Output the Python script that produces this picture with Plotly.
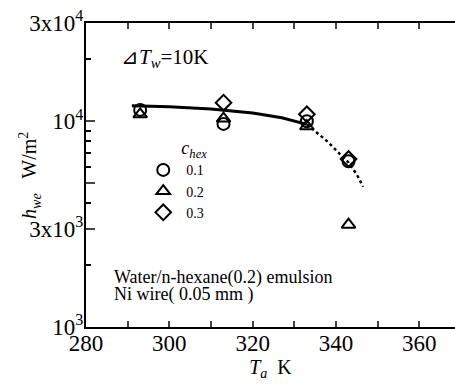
import plotly.graph_objects as go

# ---- data ----
conc_labels = ["0.1", "0.2", "0.3"]
Ta_c1 = [293, 313, 333, 343]
h_c1 = [11350, 9700, 10000, 6380]
Ta_c2 = [293, 313, 333, 343]
h_c2 = [10800, 10300, 9450, 3140]
Ta_c3 = [313, 333, 343]
h_c3 = [12300, 10800, 6550]

fit_solid_x = [291, 300, 310, 320, 327, 333]
fit_solid_y = [11900, 11750, 11450, 10950, 10400, 9650]
fit_dot_x = [333, 335, 338, 341, 343, 345, 346.5]
fit_dot_y = [9650, 8950, 7950, 6900, 6300, 5500, 4800]

x_tickvals = [280, 290, 300, 310, 320, 330, 340, 350, 360]
x_ticktext = ["280", "", "300", "", "320", "", "340", "", "360"]
y_tickvals = [1e3, 3e3, 5e3, 1e4, 3e4]
y_ticktext = ["10<sup>3</sup>", "3x10<sup>3</sup>", "", "10<sup>4</sup>", "3x10<sup>4</sup>"]
y_minor = [2e3, 4e3, 6e3, 7e3, 8e3, 9e3, 2e4]

FONT = "Liberation Serif"
Y_RANGE = [3, 4.47713]
fig = go.Figure()

fig.add_trace(go.Scatter(x=fit_solid_x, y=fit_solid_y, mode="lines",
                         line=dict(color="black", width=3), showlegend=False))
fig.add_trace(go.Scatter(x=fit_dot_x, y=fit_dot_y, mode="lines",
                         line=dict(color="black", width=2.5, dash="dot"), showlegend=False))

for xs, ys, sym, name in [(Ta_c1, h_c1, "circle-open", conc_labels[0]),
                          (Ta_c2, h_c2, "triangle-up-open", conc_labels[1]),
                          (Ta_c3, h_c3, "diamond-open", conc_labels[2])]:
    fig.add_trace(go.Scatter(x=xs, y=ys, mode="markers", name=name,
                             marker=dict(symbol=sym, size=12, color="black",
                                         line=dict(width=2, color="black"))))

fig.update_layout(
    width=455, height=385,
    margin=dict(l=86, r=0, t=23, b=58),
    plot_bgcolor="white", paper_bgcolor="white",
    font=dict(family=FONT, color="black", size=20),
    legend=dict(x=0.147, y=0.645, xanchor="left", yanchor="top",
                bgcolor="rgba(0,0,0,0)", font=dict(size=14, family=FONT),
                title=dict(text="<i>c</i><sub><i>hex</i></sub>", side="top right",
                           font=dict(size=18, family=FONT)),
                itemwidth=36, tracegroupgap=0),
    xaxis=dict(range=[280, 368.55], tickvals=x_tickvals, ticktext=x_ticktext,
               ticks="inside", ticklen=6, tickwidth=1.5, showline=True, linewidth=2,
               linecolor="black", mirror="ticks", showgrid=False, zeroline=False,
               automargin=False, ticklabelstandoff=-6,
               tickfont=dict(size=23, family=FONT),
               title=dict(text="<i>T</i><sub><i>a</i></sub>  K", standoff=4,
                          font=dict(size=20, family=FONT))),
    yaxis=dict(type="log", range=Y_RANGE, tickvals=y_tickvals, ticktext=y_ticktext,
               ticks="inside", ticklen=9, tickwidth=1.5, showline=True, linewidth=2,
               linecolor="black", showgrid=False, zeroline=False, automargin=False,
               ticklabelstandoff=-4,
               tickfont=dict(size=23, family=FONT),
               minor=dict(tickvals=y_minor, ticks="inside", ticklen=5, tickwidth=1.5,
                          tickcolor="black", showgrid=False)),
    yaxis2=dict(type="log", range=Y_RANGE, overlaying="y", side="right",
                tickvals=[5e3, 1e4], ticks="inside", ticklen=5, tickwidth=1.5,
                tickcolor="black", showticklabels=False, showline=False,
                showgrid=False, zeroline=False, automargin=False),
)

# y-axis title placed as a rotated annotation (sits closer to the axis than Plotly allows)
fig.add_annotation(xref="paper", yref="paper", x=-0.152, y=0.5, xanchor="center",
                   yanchor="middle", showarrow=False, textangle=-90,
                   text="<i>h</i><sub><i>we</i></sub>   W/m<sup>2</sup>",
                   font=dict(size=20, family=FONT))
fig.add_annotation(xref="paper", yref="paper", x=0.07, y=0.164, xanchor="left",
                   yanchor="middle", showarrow=False,
                   text="Water/n-hexane(0.2) emulsion", font=dict(size=18, family=FONT))
fig.add_annotation(xref="paper", yref="paper", x=0.07, y=0.108, xanchor="left",
                   yanchor="middle", showarrow=False,
                   text="Ni wire( 0.05 mm )", font=dict(size=18, family=FONT))
fig.add_annotation(xref="paper", yref="paper", x=0.09, y=0.885, xanchor="left",
                   yanchor="middle", showarrow=False,
                   text="⊿<i>T</i><sub><i>w</i></sub>=10K", font=dict(size=21, family=FONT))

fig.write_html("out.html", config={"displayModeBar": False},
               post_script="document.body.style.margin='0';"
                           "document.body.style.overflow='hidden';")
